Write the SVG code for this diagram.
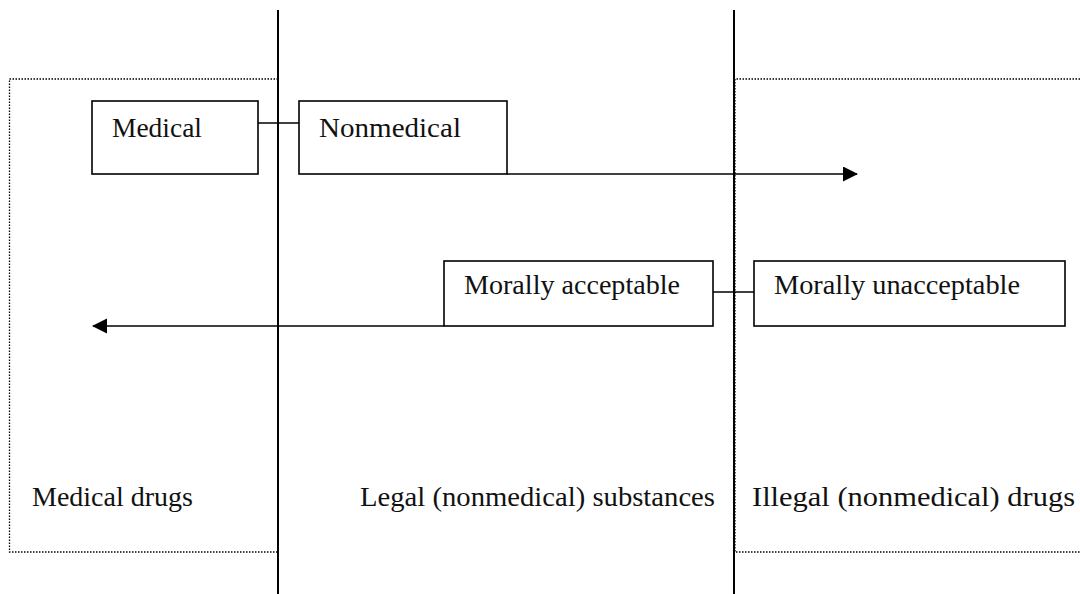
<svg xmlns="http://www.w3.org/2000/svg" width="1080" height="594" viewBox="0 0 1080 594">
  <defs>
    <style>
      .zone { fill: none; stroke: #000; stroke-width: 1.3; stroke-dasharray: 1.5 1.5; }
      .divider { stroke: #000; stroke-width: 2; }
      .box { fill: #fff; stroke: #000; stroke-width: 1.6; }
      .link { fill: none; stroke: #000; stroke-width: 1.6; }
      .label { font-family: "Liberation Serif", "DejaVu Serif", serif; font-size: 27px; fill: #111; }
    </style>
    <marker id="arrow" markerUnits="userSpaceOnUse" markerWidth="16" markerHeight="16" refX="14" refY="7.5" orient="auto">
      <path d="M0,0 L15,7.5 L0,15 Z" fill="#000"/>
    </marker>
  </defs>

  <rect width="1080" height="594" fill="#fff"/>

  <g id="zones">
    <path class="zone" d="M278,79 H9.5 V552 H278"/>
    <path class="zone" d="M1080,79 H735 V552 H1080"/>
  </g>

  <g id="dividers">
    <line class="divider" x1="278" y1="10" x2="278" y2="594"/>
    <line class="divider" x1="734" y1="10" x2="734" y2="594"/>
  </g>

  <g id="connectors">
    <line class="link" x1="258" y1="123" x2="299" y2="123"/>
    <line class="link" x1="507" y1="174" x2="857" y2="174" marker-end="url(#arrow)"/>
    <line class="link" x1="713" y1="292" x2="754" y2="292"/>
    <line class="link" x1="444" y1="326" x2="93" y2="326" marker-end="url(#arrow)"/>
  </g>

  <g id="node-medical">
    <rect class="box" x="92" y="101" width="166" height="73"/>
    <text class="label" x="112" y="137" textLength="90" lengthAdjust="spacingAndGlyphs">Medical</text>
  </g>

  <g id="node-nonmedical">
    <rect class="box" x="299" y="101" width="208" height="73"/>
    <text class="label" x="319" y="137" textLength="142" lengthAdjust="spacingAndGlyphs">Nonmedical</text>
  </g>

  <g id="node-morally-acceptable">
    <rect class="box" x="444" y="261" width="269" height="65"/>
    <text class="label" x="464" y="294" textLength="216" lengthAdjust="spacingAndGlyphs">Morally acceptable</text>
  </g>

  <g id="node-morally-unacceptable">
    <rect class="box" x="754" y="261" width="311" height="65"/>
    <text class="label" x="774" y="294" textLength="246" lengthAdjust="spacingAndGlyphs">Morally unacceptable</text>
  </g>

  <g id="zone-labels">
    <text class="label" x="32" y="506" textLength="161" lengthAdjust="spacingAndGlyphs">Medical drugs</text>
    <text class="label" x="360" y="506" textLength="355" lengthAdjust="spacingAndGlyphs">Legal (nonmedical) substances</text>
    <text class="label" x="752" y="506" textLength="323" lengthAdjust="spacingAndGlyphs">Illegal (nonmedical) drugs</text>
  </g>
</svg>
